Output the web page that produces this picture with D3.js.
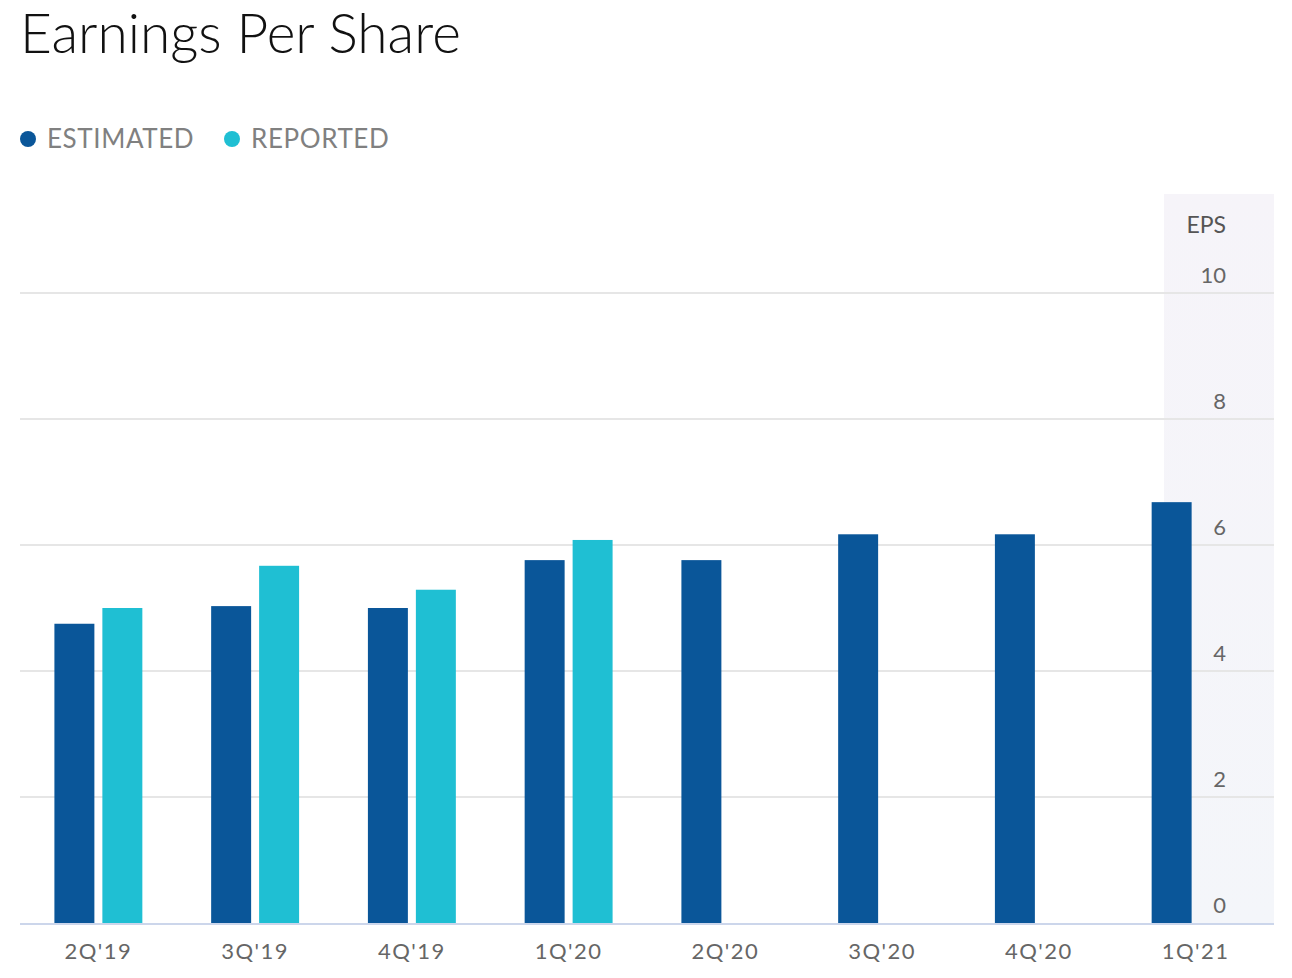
<!DOCTYPE html>
<html>
<head>
<meta charset="utf-8">
<script src="https://cdn.jsdelivr.net/npm/d3@7"></script>
<style>
  body { margin: 0; background: #fff; }
  svg { display: block; font-family: "Source Sans Pro", Lato, "Open Sans", sans-serif; }
</style>
</head>
<body>
<script>
'use strict';

// chart values
let quarters = ["2Q'19", "3Q'19", "4Q'19", "1Q'20", "2Q'20", "3Q'20", "4Q'20", "1Q'21"];
let estimated = [4.75, 5.03, 5.0, 5.76, 5.76, 6.17, 6.17, 6.68];
let reported = [5.0, 5.67, 5.29, 6.08, null, null, null, null];
let yTicks = [0, 2, 4, 6, 8, 10];
let seriesNames = ["ESTIMATED", "REPORTED"];
let seriesColors = ["#0a5699", "#1fbfd3"];

(function() {
  let svg = d3.select('body')
    .append('svg')
    .attr('width', 1292)
    .attr('height', 978);

  // title
  svg.append('text')
    .attr('x', 20)
    .attr('y', 53)
    .attr('font-size', 55)
    .attr('font-weight', 300)
    .attr('fill', '#111')
    .text('Earnings Per Share');

  // legend
  let legendX = [28, 232];
  seriesNames.forEach(function(name, i) {
    svg.append('circle')
      .attr('cx', legendX[i])
      .attr('cy', 139)
      .attr('r', 8)
      .attr('fill', seriesColors[i]);
    svg.append('text')
      .attr('x', legendX[i] + 19)
      .attr('y', 148)
      .attr('font-size', 26)
      .attr('letter-spacing', 0.6)
      .attr('fill', '#808080')
      .text(name);
  });

  // scales
  let x0 = d3.scaleBand()
    .domain(quarters)
    .range([20, 1274])
    .paddingInner(0.439)
    .paddingOuter(0.2195);

  let x1 = d3.scaleBand()
    .domain([0, 1])
    .range([0, x0.bandwidth()])
    .paddingInner(1 / 6);

  let y = d3.scaleLinear()
    .domain([0, 10])
    .range([923, 293]);

  // shaded panel behind y labels
  let grad = svg.append('defs').append('linearGradient')
    .attr('id', 'panel')
    .attr('x1', 0).attr('y1', 0).attr('x2', 0).attr('y2', 1);
  grad.append('stop').attr('offset', '0%').attr('stop-color', '#f6f4f9');
  grad.append('stop').attr('offset', '100%').attr('stop-color', '#f4f6fa');

  svg.append('rect')
    .attr('x', 1164)
    .attr('y', 194)
    .attr('width', 110)
    .attr('height', y(0) - 194)
    .attr('fill', 'url(#panel)');

  // gridlines
  svg.append('g')
    .selectAll('line')
    .data(yTicks.filter((d) => d > 0))
    .enter()
    .append('line')
      .attr('x1', 20)
      .attr('x2', 1274)
      .attr('y1', (d) => y(d))
      .attr('y2', (d) => y(d))
      .attr('stroke', '#e6e6e6')
      .attr('stroke-width', 2);

  // y axis labels
  let yAxis = d3.axisRight(y)
    .tickValues(yTicks)
    .tickSize(0)
    .tickPadding(0);
  let yAxisG = svg.append('g')
    .attr('transform', 'translate(1226, 0)')
    .call(yAxis);
  yAxisG.select('.domain').remove();
  yAxisG.selectAll('text')
    .attr('text-anchor', 'end')
    .attr('dy', -11)
    .attr('font-size', 22)
    .attr('font-family', '"Source Sans Pro", Lato, "Open Sans", sans-serif')
    .attr('fill', '#666');

  svg.append('text')
    .attr('x', 1226)
    .attr('y', 233)
    .attr('text-anchor', 'end')
    .attr('font-size', 23)
    .attr('fill', '#555')
    .text('EPS');

  // bars
  let groups = svg.append('g')
    .selectAll('g')
    .data(quarters)
    .enter()
    .append('g')
      .attr('transform', (d) => 'translate(' + x0(d) + ',0)');

  groups.selectAll('rect')
    .data((d, i) => [estimated[i], reported[i]]
      .map((v, k) => ({ k: k, v: v }))
      .filter((e) => e.v !== null))
    .enter()
    .append('rect')
      .attr('x', (d) => x1(d.k))
      .attr('y', (d) => y(d.v))
      .attr('width', x1.bandwidth())
      .attr('height', (d) => y(0) - y(d.v))
      .attr('fill', (d) => seriesColors[d.k]);

  // x axis
  let xAxis = d3.axisBottom(x0).tickSize(0).tickPadding(0);
  let xAxisG = svg.append('g')
    .attr('transform', 'translate(0,' + y(0) + ')')
    .call(xAxis);
  xAxisG.select('.domain').remove();
  xAxisG.selectAll('text')
    .attr('dy', 36)
    .attr('font-size', 22)
    .attr('letter-spacing', 1.5)
    .attr('font-family', '"Source Sans Pro", Lato, "Open Sans", sans-serif')
    .attr('fill', '#666');

  svg.append('line')
    .attr('x1', 20)
    .attr('x2', 1274)
    .attr('y1', y(0) + 1)
    .attr('y2', y(0) + 1)
    .attr('stroke', '#ccd6eb')
    .attr('stroke-width', 2);
})();
</script>
</body>
</html>
